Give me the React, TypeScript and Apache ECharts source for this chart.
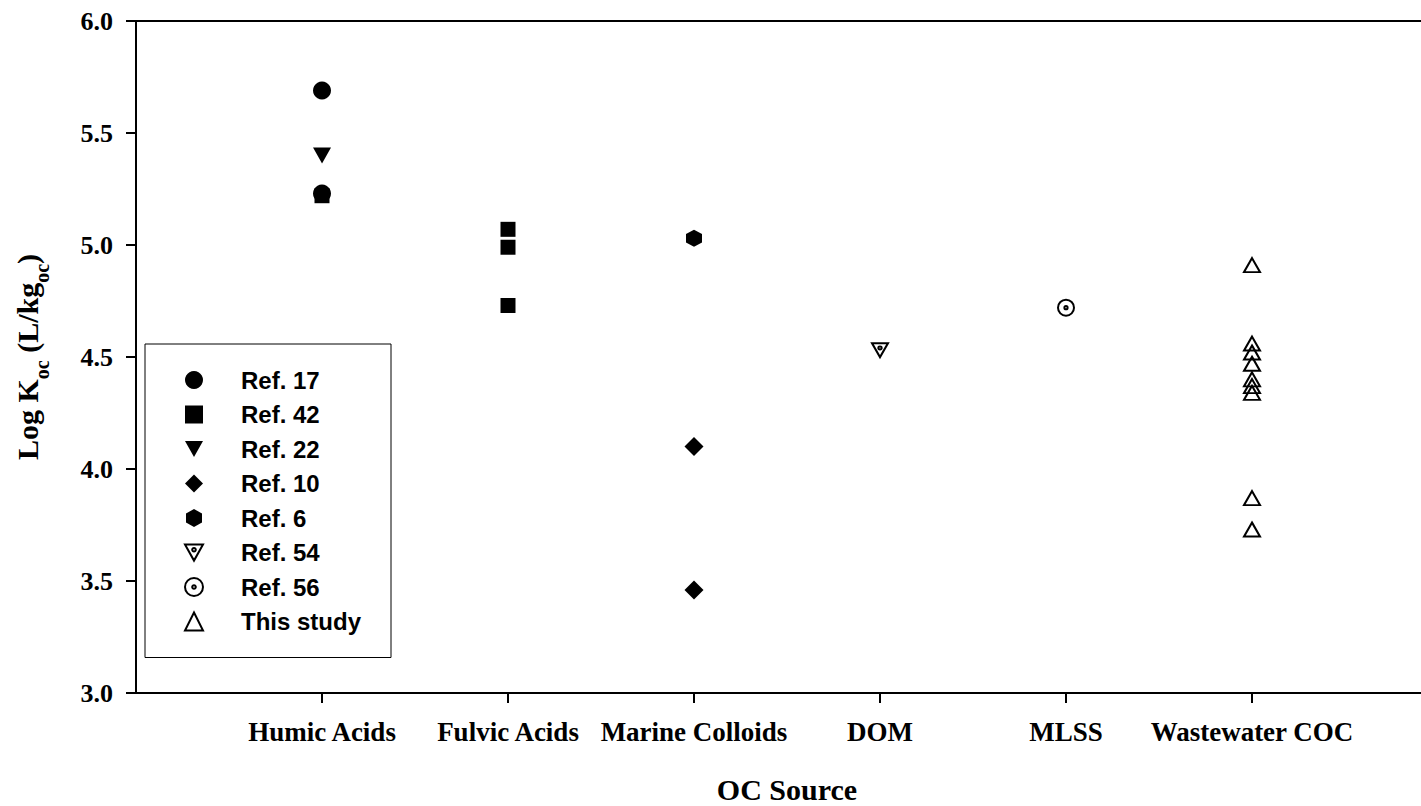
import React, { useEffect, useRef } from "react";
import * as echarts from "echarts";

// ---------- data ----------
const CATEGORIES = [
  "Humic Acids",
  "Fulvic Acids",
  "Marine Colloids",
  "DOM",
  "MLSS",
  "Wastewater COC",
];

const Y_MIN = 3;
const Y_MAX = 6;
const Y_INTERVAL = 0.5;

const LEGEND_NAMES = [
  "Ref. 17",
  "Ref. 42",
  "Ref. 22",
  "Ref. 10",
  "Ref. 6",
  "Ref. 54",
  "Ref. 56",
  "This study",
];

const REF17: [string, number][] = [
  ["Humic Acids", 5.69],
  ["Humic Acids", 5.23],
];
const REF42: [string, number][] = [
  ["Humic Acids", 5.22],
  ["Fulvic Acids", 5.07],
  ["Fulvic Acids", 4.99],
  ["Fulvic Acids", 4.73],
];
const REF22: [string, number][] = [["Humic Acids", 5.4]];
const REF10: [string, number][] = [
  ["Marine Colloids", 4.1],
  ["Marine Colloids", 3.46],
];
const REF6: [string, number][] = [["Marine Colloids", 5.03]];
const REF54: [string, number][] = [["DOM", 4.53]];
const REF56: [string, number][] = [["MLSS", 4.72]];
const THIS_STUDY: [string, number][] = [
  ["Wastewater COC", 4.91],
  ["Wastewater COC", 4.56],
  ["Wastewater COC", 4.52],
  ["Wastewater COC", 4.47],
  ["Wastewater COC", 4.4],
  ["Wastewater COC", 4.37],
  ["Wastewater COC", 4.34],
  ["Wastewater COC", 3.87],
  ["Wastewater COC", 3.73],
];

// ---------- styles ----------
const SERIF = '"Liberation Serif", "Times New Roman", Times, serif';
const SANS = '"Liberation Sans", Arial, Helvetica, sans-serif';

const SYM_TRI_DOWN = "path://M0,0 L18,0 L9,16 Z";
const SYM_HEX = "path://M8,0 L16,4.5 L16,13.5 L8,18 L0,13.5 L0,4.5 Z";
const SYM_TRI_DOWN_DOT =
  "path://M0,0 L20,0 L10,18 Z M12,6 A2,2 0 1 1 8,6 A2,2 0 1 1 12,6 Z";
const SYM_CIRCLE_DOT =
  "path://M20,10 A10,10 0 1 1 0,10 A10,10 0 1 1 20,10 Z M12,10 A2,2 0 1 1 8,10 A2,2 0 1 1 12,10 Z";

const FILLED = { color: "#000", borderWidth: 0, opacity: 1 };
const OPEN = { color: "rgba(0,0,0,0)", borderColor: "#000", borderWidth: 2, opacity: 1 };

const AXIS_LINE = { show: true, lineStyle: { color: "#000", width: 2 } };

const toPoints = (pts: [string, number][]) =>
  pts.map(([c, v]) => [CATEGORIES.indexOf(c) + 1, v]);

export default function App() {
  const ref = useRef<HTMLDivElement>(null);

  useEffect(() => {
    document.body.style.margin = "0";
    if (!ref.current) return;
    const chart = echarts.init(ref.current, null, { renderer: "svg" });

    const seriesSpec = [
      { name: LEGEND_NAMES[0], data: REF17, symbol: "circle", size: 18, style: FILLED },
      { name: LEGEND_NAMES[1], data: REF42, symbol: "rect", size: 15, style: FILLED },
      { name: LEGEND_NAMES[2], data: REF22, symbol: SYM_TRI_DOWN, size: [18, 16], style: FILLED },
      { name: LEGEND_NAMES[3], data: REF10, symbol: "diamond", size: [19, 19], style: FILLED },
      { name: LEGEND_NAMES[4], data: REF6, symbol: SYM_HEX, size: [16, 17], style: FILLED },
      { name: LEGEND_NAMES[5], data: REF54, symbol: SYM_TRI_DOWN_DOT, size: [16, 14], style: OPEN },
      { name: LEGEND_NAMES[6], data: REF56, symbol: SYM_CIRCLE_DOT, size: 16, style: OPEN },
      { name: LEGEND_NAMES[7], data: THIS_STUDY, symbol: "triangle", size: [16, 14], style: OPEN },
    ];

    const tickVals = CATEGORIES.map((_, i) => i + 1);
    const xMax = CATEGORIES.length + 1;

    chart.setOption({
      animation: false,
      backgroundColor: "#fff",
      grid: {
        left: 136,
        top: 21,
        width: 1302,
        height: 672,
        outerBoundsMode: "none",
        containLabel: false,
        show: false,
      },
      legend: {
        orient: "vertical",
        left: 145,
        top: 344,
        data: LEGEND_NAMES,
        padding: [24, 30, 24, 39],
        itemWidth: 18,
        itemHeight: 18,
        itemGap: 10.5,
        borderColor: "#000",
        borderWidth: 1,
        backgroundColor: "#fff",
        selectedMode: false,
        itemStyle: { opacity: 1 },
        textStyle: {
          fontFamily: SANS,
          fontWeight: "bold",
          fontSize: 24,
          lineHeight: 24,
          color: "#000",
          padding: [0, 0, 0, 33],
        },
      },
      xAxis: [
        {
          type: "value",
          position: "bottom",
          min: 0,
          max: xMax,
          interval: 1,
          axisLine: AXIS_LINE,
          axisTick: {
            show: true,
            customValues: tickVals,
            length: 10,
            lineStyle: { color: "#000", width: 2 },
          },
          axisLabel: {
            customValues: tickVals,
            formatter: (v: number) => CATEGORIES[Math.round(v) - 1] ?? "",
            fontFamily: SERIF,
            fontWeight: "bold",
            fontSize: 27,
            color: "#000",
            margin: 25,
          },
          splitLine: { show: false },
          name: "OC Source",
          nameLocation: "middle",
          nameGap: 81,
          nameTextStyle: {
            fontFamily: SERIF,
            fontWeight: "bold",
            fontSize: 30,
            color: "#000",
          },
        },
        {
          type: "value",
          position: "top",
          min: 0,
          max: xMax,
          interval: 1,
          axisLine: AXIS_LINE,
          axisTick: { show: false },
          axisLabel: { show: false },
          splitLine: { show: false },
        },
      ],
      yAxis: {
        type: "value",
        min: Y_MIN,
        max: Y_MAX,
        interval: Y_INTERVAL,
        axisLine: AXIS_LINE,
        axisTick: { show: true, length: 10, lineStyle: { color: "#000", width: 2 } },
        axisLabel: {
          formatter: (v: number) => v.toFixed(1),
          fontFamily: SERIF,
          fontWeight: "bold",
          fontSize: 26,
          color: "#000",
          margin: 23,
        },
        splitLine: { show: false },
        name: "{m|Log K}{s|oc}{m| (L/kg}{s|oc}{m|)}",
        nameLocation: "middle",
        nameRotate: 90,
        nameGap: 84,
        nameTextStyle: {
          rich: {
            m: {
              fontFamily: SERIF,
              fontWeight: "bold",
              fontSize: 30,
              lineHeight: 50,
              color: "#000",
            },
            s: {
              fontFamily: SERIF,
              fontWeight: "bold",
              fontSize: 20,
              lineHeight: 20,
              verticalAlign: "bottom",
              color: "#000",
            },
          },
        },
      },
      series: seriesSpec.map((s) => ({
        type: "scatter",
        name: s.name,
        xAxisIndex: 0,
        data: toPoints(s.data),
        symbol: s.symbol,
        symbolSize: s.size,
        itemStyle: { ...s.style },
        emphasis: { disabled: true },
        silent: true,
      })),
    });

    return () => chart.dispose();
  }, []);

  return <div ref={ref} style={{ width: 1421, height: 806 }} />;
}
